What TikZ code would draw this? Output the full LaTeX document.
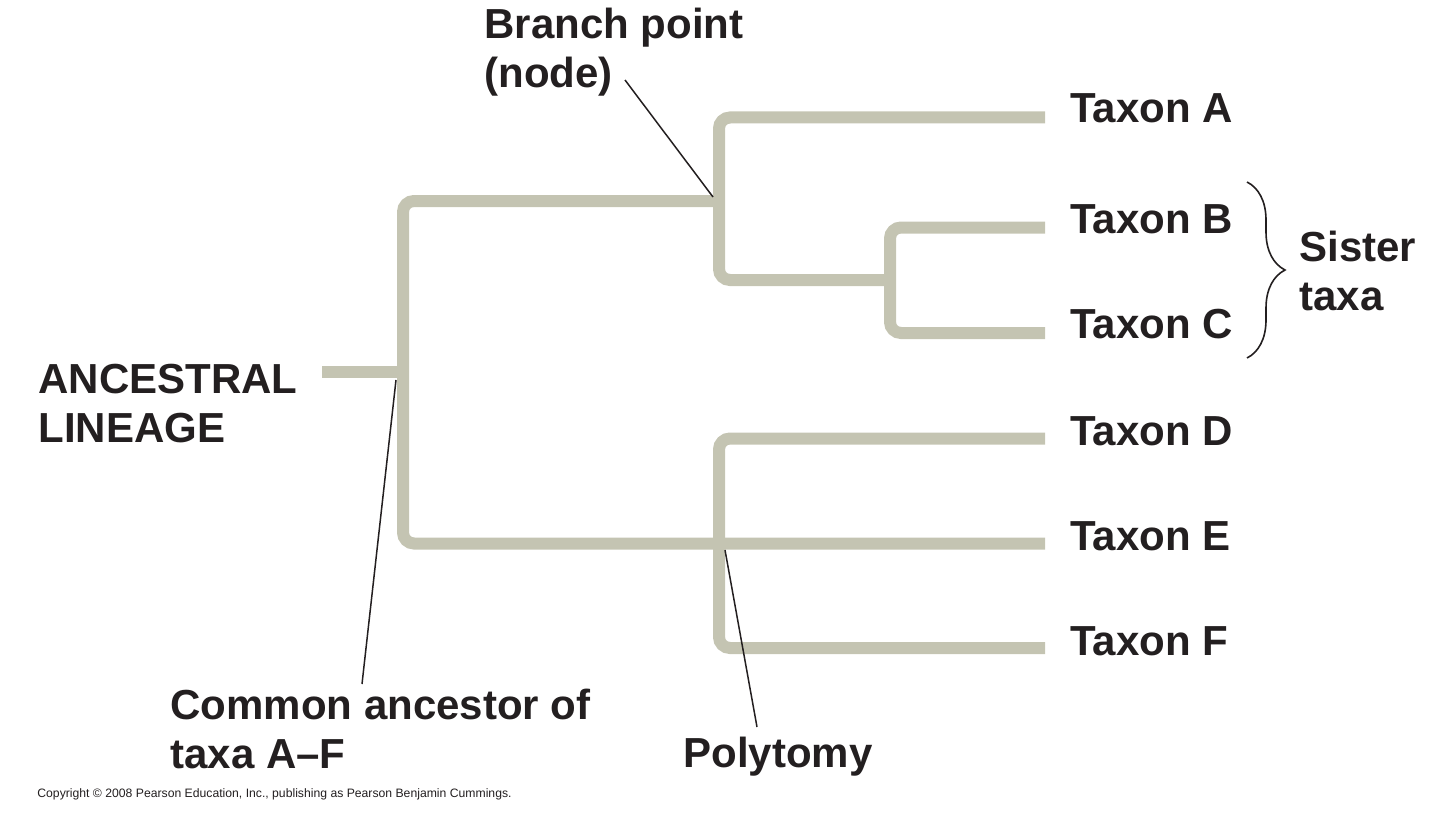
\documentclass[tikz,border=0pt]{standalone}
\usepackage{fontspec}
\setmainfont{Liberation Sans}
\usetikzlibrary{decorations.pathreplacing}
\definecolor{branchgray}{RGB}{196,196,178}
\definecolor{inkblack}{RGB}{35,31,32}
\begin{document}
\begin{tikzpicture}[x=0.5pt, y=-0.5pt, branch/.style={draw=branchgray, line width=6pt, rounded corners=5.5pt}, pointer/.style={draw=inkblack, line width=0.75pt}, textlbl/.style={inner sep=0pt, anchor=base west, align=left, text=inkblack, font=\bfseries\fontsize{21}{24.5}\selectfont}, sisterbrace/.style={draw=inkblack, line width=0.8pt, decorate, decoration={brace, amplitude=19pt}}]
\useasboundingbox (0,0) rectangle (1440,824);

\coordinate (stub) at (322,372);
\coordinate (root) at (403,372);
\coordinate (nABC) at (719,201);
\coordinate (nBC) at (890,280);
\coordinate (nDEF) at (719,543.5);
\coordinate (tA) at (1045,117.5);
\coordinate (tB) at (1045,227.5);
\coordinate (tC) at (1045,333);
\coordinate (tD) at (1045,438.5);
\coordinate (tE) at (1045,543.5);
\coordinate (tF) at (1045,648);

\draw[branch] (stub) -- (root);
\draw[branch] (nABC) -| (root) |- (nDEF) -- (tE);
\draw[branch] (tA) -| (nABC) |- (nBC);
\draw[branch] (tB) -| (nBC) |- (tC);
\draw[branch] (tD) -| (nDEF) |- (tF);

% labels, anchored at the baseline of their last line
\node (txA) at (1070,123) [textlbl] {Taxon A};
\node (txB) at (1070,233) [textlbl] {Taxon B};
\node (txC) at (1070,338) [textlbl] {Taxon C};
\node (txD) at (1070,445) [textlbl] {Taxon D};
\node (txE) at (1070,550) [textlbl] {Taxon E};
\node (txF) at (1070,655) [textlbl] {Taxon F};

\node (branchpt) at (484,88) [textlbl] {Branch point\\(node)};
\node (ancestral) at (38,442) [textlbl] {ANCESTRAL\\LINEAGE};
\node (sister) at (1299,310) [textlbl] {Sister\\taxa};
\node (common) at (170,768) [textlbl] {Common ancestor of\\taxa A–F};
\node (polytomy) at (683,767) [textlbl] {Polytomy};
\node (copyright) at (37,797) [inner sep=0pt, anchor=base west, text=inkblack, font=\fontsize{6.1}{7}\selectfont] {Copyright © 2008 Pearson Education, Inc., publishing as Pearson Benjamin Cummings.};

\coordinate (bpTail) at (625,80);
\coordinate (bpHead) at (713,197);
\coordinate (caTail) at (362,684);
\coordinate (caHead) at (396,380);
\coordinate (ptTail) at (757,727);
\coordinate (ptHead) at (725,550);
\coordinate (brTop) at (1247,182);
\coordinate (brBot) at (1247,358);

\draw[pointer] (bpTail) -- (bpHead);
\draw[pointer] (caTail) -- (caHead);
\draw[pointer] (ptTail) -- (ptHead);
\draw[sisterbrace] (brTop) -- (brBot);
\end{tikzpicture}
\end{document}
